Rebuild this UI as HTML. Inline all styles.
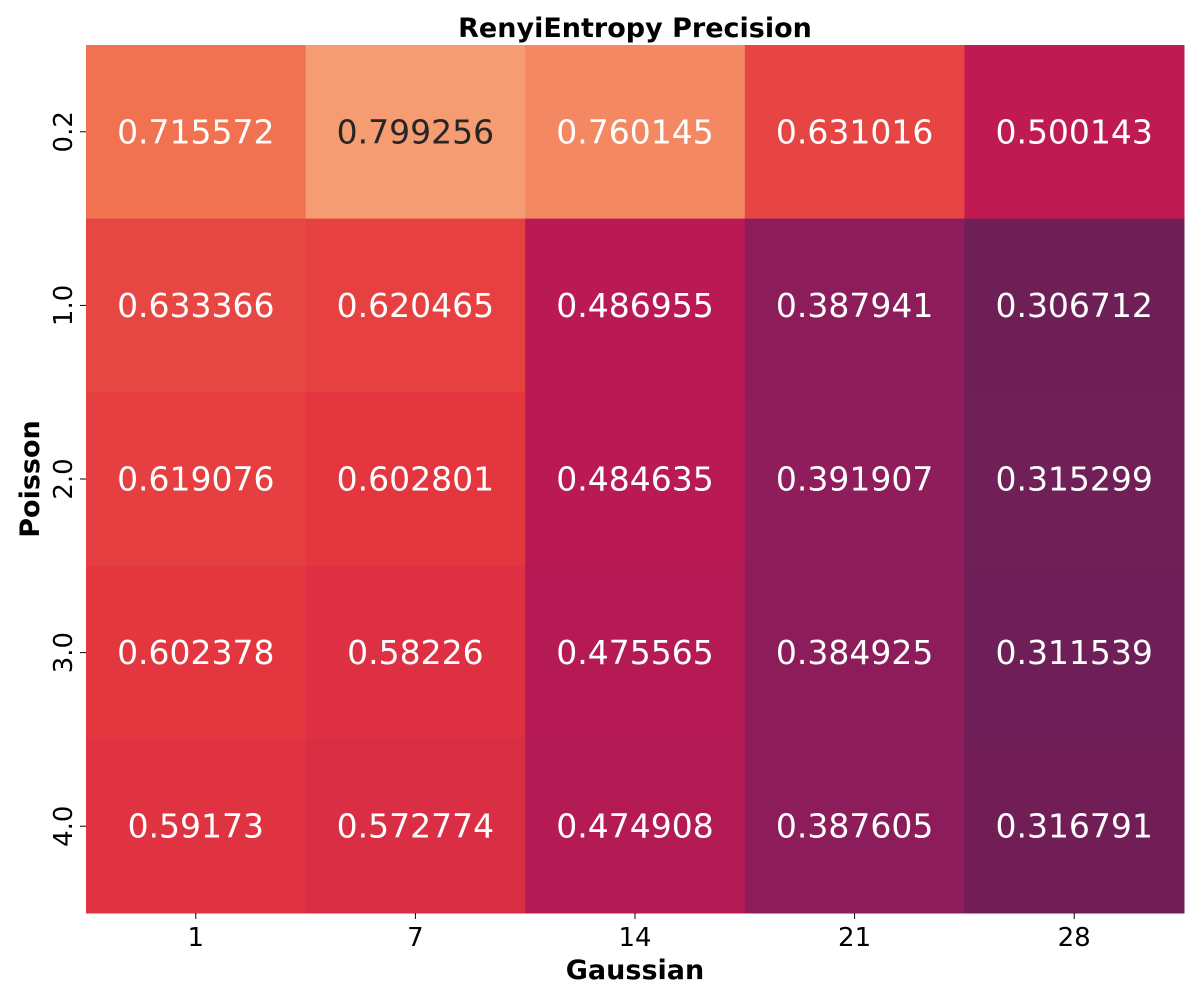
<!DOCTYPE html>
<html><head><meta charset="utf-8"><style>
body{margin:0;background:#fff;}
svg{display:block;font-family:"DejaVu Sans","Liberation Sans",sans-serif;}
</style></head><body>
<svg id="chart" width="1200" height="1000" viewBox="0 0 1200 1000" xmlns="http://www.w3.org/2000/svg">
<text x="635" y="37" text-anchor="middle" font-size="27" font-weight="bold">RenyiEntropy Precision</text>
<text x="635" y="979" text-anchor="middle" font-size="27" font-weight="bold">Gaussian</text>
<text transform="translate(39,479) rotate(-90)" text-anchor="middle" font-size="27" font-weight="bold">Poisson</text>
<g id="cells"></g>
</svg>
<script>
const xLabels=["1","7","14","21","28"];
const yLabels=["0.2","1.0","2.0","3.0","4.0"];
const row0=[0.715572,0.799256,0.760145,0.631016,0.500143];
const row1=[0.633366,0.620465,0.486955,0.387941,0.306712];
const row2=[0.619076,0.602801,0.484635,0.391907,0.315299];
const row3=[0.602378,0.58226,0.475565,0.384925,0.311539];
const row4=[0.59173,0.572774,0.474908,0.387605,0.316791];
const rows=[row0,row1,row2,row3,row4];
const vmin=0,vmax=1;
const stops=["#03051a","#221331","#451c47","#6a1f56","#921c5b","#c01a52","#e3353f","#f06a4b","#f59c72","#f6c19f","#faebdd"];
function hex(h){return [1,3,5].map(i=>parseInt(h.substr(i,2),16));}
function cmap(v){let t=Math.max(0,Math.min(1,(v-vmin)/(vmax-vmin)))*10;let i=Math.min(9,Math.floor(t));let f=t-i;
 const a=hex(stops[i]),b=hex(stops[i+1]);return a.map((x,k)=>Math.round(x+(b[k]-x)*f));}
function relLum(c){const l=c.map(x=>{x/=255;return x<=0.03928?x/12.92:Math.pow((x+0.055)/1.055,2.4);});return 0.2126*l[0]+0.7152*l[1]+0.0722*l[2];}
const L=86,T=45,W=1098,H=868;
const cw=W/xLabels.length,ch=H/yLabels.length;
const xs=i=>L+i*cw, ys=j=>T+j*ch;
const NS="http://www.w3.org/2000/svg";
const svg=document.getElementById('chart');
function mk(tag,at,parent){const e=document.createElementNS(NS,tag);for(const k in at)e.setAttribute(k,at[k]);(parent||svg).appendChild(e);return e;}
rows.forEach((r,j)=>{r.forEach((v,i)=>{
 const c=cmap(v);
 const rect=mk('rect',{x:xs(i),y:ys(j),width:cw+0.5,height:ch+0.5,fill:`rgb(${c})`});
 
 
 const t=mk('text',{x:xs(i)+cw/2,y:ys(j)+ch/2+11.5,'text-anchor':'middle','font-size':'33',fill:relLum(c)>0.408?'#262626':'#ffffff'});
 t.textContent=String(v);
 
 
});});
xLabels.forEach((l,i)=>{
 const x=xs(i)+cw/2;
 const tk=mk('line',{x1:x,x2:x,y1:T+H,y2:T+H+6,stroke:'#000','stroke-width':1});
 
 
 const t=mk('text',{x:x,y:T+H+33,'text-anchor':'middle','font-size':'26'});
 t.textContent=l;
 
 
});
yLabels.forEach((l,j)=>{
 const y=ys(j)+ch/2;
 const tk=mk('line',{x1:L-6,x2:L,y1:y,y2:y,stroke:'#000','stroke-width':1});
 
 
 const t=mk('text',{transform:`translate(${L-14},${y}) rotate(-90)`,'text-anchor':'middle','font-size':'26'});
 t.textContent=l;
 
 
});
</script>
</body></html>
